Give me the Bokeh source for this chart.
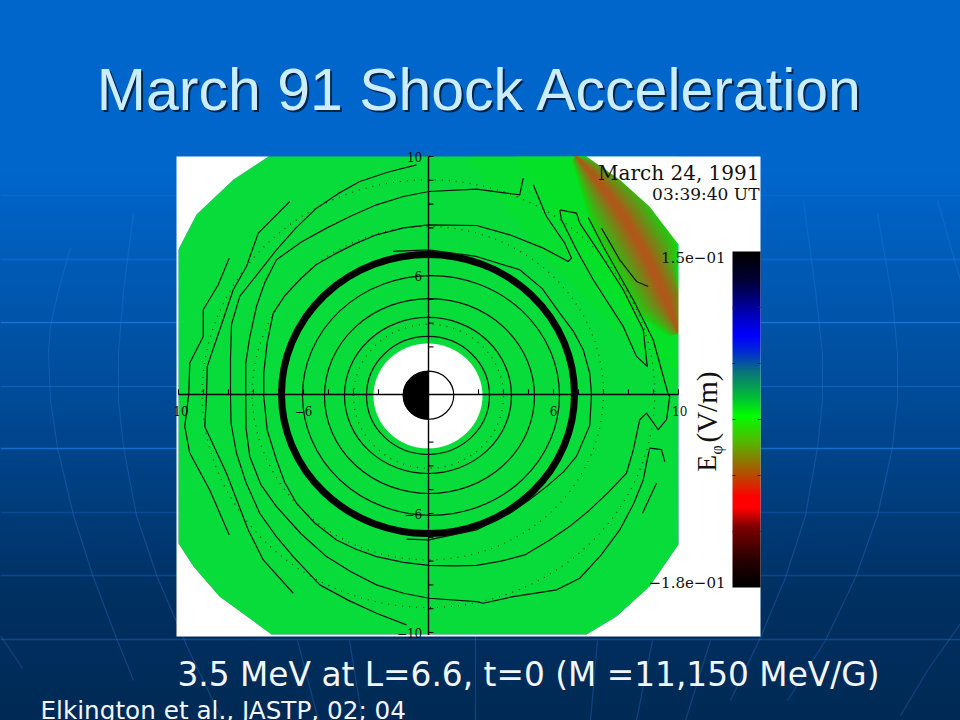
import numpy as np
from bokeh.core.properties import value
from bokeh.embed import file_html
from bokeh.models import GlobalInlineStyleSheet, LinearColorMapper, Range1d
from bokeh.plotting import figure
from bokeh.resources import INLINE

# ---- texts
title_text = "March 91 Shock Acceleration"
caption_text = "3.5 MeV at L=6.6, t=0 (M =11,150 MeV/G)"
credit_text = "Elkington et al., JASTP, 02; 04"
date_text = "March 24, 1991"
time_text = "03:39:40 UT"
cb_top_label = "1.5e\u221201"
cb_bottom_label = "\u22121.8e\u221201"

# ---- disk outline, L units
disk_x = [-6.4, 6.32, 7.64, 8.84, 10.0, 10.0, 8.84, 7.52, 6.32, -6.28, -8.36, -9.4, -10.0, -10.0, -9.28, -7.8]
disk_y = [10.0, 10.0, 9.03, 7.9, 6.3, -6.3, -8.07, -9.33, -10.08, -10.08, -8.49, -7.23, -6.26, 6.1, 7.56, 9.03]
panel_x = [-10.08, 13.28, 13.28, -10.08]
panel_y = [10.0, 10.0, -10.17, -10.17]

# ---- shock band: centre line and half width, L units
band_x = [5.9, 6.6, 7.24, 7.8, 8.72, 9.52, 10.2]
band_y = [10.1, 9.2, 8.32, 7.48, 5.8, 3.99, 2.6]
band_hw = [0.3, 0.85, 1.25, 1.45, 1.5, 1.4, 0.6]

# ---- colour bar
cb_values = [-0.18, 0.15]
cb_stops = [(251, (0, 0, 0)), (280, (0, 0, 55)), (320, (0, 0, 210)), (335, (0, 0, 255)), (350, (0, 40, 215)),
            (372, (10, 120, 120)), (398, (0, 195, 50)), (415, (0, 255, 0)), (440, (80, 190, 0)),
            (472, (175, 85, 0)), (497, (255, 0, 0)), (508, (255, 0, 0)), (527, (125, 0, 0)),
            (560, (40, 0, 0)), (587, (0, 0, 0))]

# ---- nearly circular contours: left, right, top, bottom crossing, L units
ring_left = [-2.48, -3.36, -4.16, -5.04]
ring_right = [2.44, 3.32, 4.24, 5.24]
ring_top = [2.44, 3.24, 4.03, 5.0]
ring_bottom = [-2.52, -3.32, -4.16, -5.08]
thick_edges = [-5.88, 5.84, 5.88, -5.84]
dot_left = [-3.0, -7.05, -9.05]
dot_right = [3.0, 7.0, 9.05]
dot_top = [2.95, 7.06, 9.02]
dot_bottom = [-3.1, -6.95, -8.95]

# ---- open contours, L units
a_x = [6.39, 6.99, 8.19, 8.99, 9.59, 9.65, 9.52, 9.19, 8.72, 8.45, 8.2, 7.92, 7.2, 6.45, 5.7, 4.85, 3.85, 2.9, 1.92, 1.0, 0.01, -1.0, -2.08, -2.9, -3.68, -4.55, -5.28, -5.75, -6.08, -6.45, -6.59, -6.59, -6.45, -6.21, -5.75, -5.15, -4.5, -3.68, -2.9, -2.08, -1.0, 0.01, 1.92, 3.25, 4.59, 5.59, 5.72, 5.45, 4.72, 4.19]
a_y = [7.44, 6.22, 3.98, 2.29, 0.0, -0.08, -1.06, -1.48, -0.78, -1.06, -2.3, -3.31, -4.1, -4.85, -5.5, -6.11, -6.74, -7.0, -7.18, -7.2, -7.18, -7.05, -6.81, -6.5, -6.11, -5.4, -4.57, -3.7, -2.75, -1.5, -0.08, 0.9, 2.2, 3.42, 4.15, 4.82, 5.45, 5.94, 6.35, 6.71, 7.0, 7.13, 7.1, 6.71, 6.15, 5.59, 5.73, 6.36, 7.48, 8.81]
r_x = [-1.41, 0.01, 1.92, 3.65, 4.55, 5.25, 5.8, 6.19, 6.45, 6.52, 6.45, 5.92, 5.4, 4.72, 4.0, 3.25, 1.92, 0.01, -0.88]
r_y = [6.01, 6.08, 5.8, 5.24, 4.45, 3.42, 2.65, 1.88, 0.9, 0.0, -1.3, -2.6, -3.25, -3.87, -4.45, -4.99, -5.69, -6.11, -6.08]
b_x = [3.79, 3.65, 1.92, 0.01, -1.0, -2.08, -3.1, -4.08, -5.1, -6.08, -6.55, -6.88, -7.15, -7.31, -7.31, -7.3, -7.15, -6.7, -6.08, -5.1, -4.08, -3.1, -2.08, -1.0, 0.01, 1.92, 2.19, 3.39, 5.12, 6.05, 6.9, 7.65, 8.2, 8.59, 8.72, 8.85, 9.32, 9.45]
b_y = [9.09, 8.39, 8.63, 8.53, 8.32, 7.97, 7.5, 6.99, 6.4, 5.66, 4.7, 3.7, 2.4, 1.32, -0.08, -1.4, -2.6, -3.8, -4.71, -5.85, -6.81, -7.45, -8.0, -8.35, -8.56, -8.7, -8.77, -8.49, -8.21, -7.72, -6.75, -5.69, -4.6, -3.59, -2.89, -2.25, -2.32, -2.82]
c_x = [-0.48, -1.6, -2.75, -3.6, -4.48, -5.3, -6.08, -6.85, -7.55, -7.88, -7.92, -7.92, -7.9, -7.68, -7.3, -6.75, -6.1, -5.41, -4.35, -3.2, -2.08, -0.88]
c_y = [9.65, 9.35, 8.95, 8.45, 7.83, 7.0, 6.08, 5.05, 4.12, 2.94, 1.5, 0.0, -1.2, -2.46, -3.7, -4.99, -5.95, -6.81, -8.0, -8.65, -9.19, -9.68]
d_x = [-5.55, -6.81, -7.28, -7.81, -8.35, -8.85, -8.88, -8.95, -8.08, -7.21, -6.61, -5.41]
d_y = [8.11, 6.78, 5.38, 4.4, 2.72, 1.18, -0.08, -1.34, -3.31, -5.69, -6.95, -8.35]
e_x = [-7.97, -8.41, -9.01, -9.01, -9.55, -9.59, -9.75, -9.55, -8.75, -7.97]
e_y = [5.73, 4.61, 3.56, 2.44, 1.32, 0.0, -1.34, -2.46, -4.01, -5.9]
loop_x = [5.25, 5.92, 6.05, 6.85, 7.79, 8.59, 8.75, 8.32, 7.79, 6.59, 5.92, 5.32, 5.25]
loop_y = [7.76, 7.62, 7.2, 5.94, 4.4, 2.72, 1.18, 1.6, 2.86, 4.82, 6.08, 7.34, 7.76]
f_x = [6.92, 7.65, 8.32, 8.79]
f_y = [6.99, 5.66, 4.75, 4.54]
g_x = [9.12, 8.56]
g_y = [-3.73, -4.99]

# ---- axes
tick_values = [-10, -9, -8, -7, -6, -5, -4, -3, -2, 2, 3, 4, 5, 6, 7, 8, 9, 10]
x_label_values = [-9.9, -5.0, 5.0, 10.05]
x_label_texts = ["10", "\u22126", "6", "10"]
y_label_values = [10.0, 5.0, -5.0, -10.0]
y_label_texts = ["10", "6", "\u22126", "\u221210"]

# ---- decoration of the slide background (screen pixels)
grid_rows = [195, 259, 322, 386, 448, 512, 575, 639]
grid_alpha = [0.3, 0.4, 0.75, 0.4, 0.75, 0.25, 0.3, 0.35]
meridians = [
    ([70, 58, 50, 48, 50, 57, 73, 93, 113, 133], [247, 290, 325, 353, 400, 447, 515, 577, 630, 680]),
    ([133, 123, 118, 118, 123, 136, 157, 187, 222], [213, 290, 353, 400, 447, 515, 577, 647, 720]),
    ([803, 815, 822, 822, 817, 805, 785, 760, 730], [200, 290, 353, 400, 447, 515, 577, 637, 700]),
    ([877, 892, 897, 897, 892, 877, 855, 825, 787], [213, 300, 353, 400, 447, 515, 577, 640, 700]),
    ([937, 960], [200, 280]),
    ([960, 927, 900], [623, 670, 715]),
    ([297, 318], [640, 720]), ([349, 362], [640, 720]), ([475, 475], [636, 720]),
    ([597, 590], [640, 720]), ([652, 636], [640, 720]), ([710, 685], [640, 720]),
    ([0, 22], [635, 668]),
]

# ---- page
X0, Y0, UX, UY = 428.0, 394.0, 25.0, 23.8
sheet = GlobalInlineStyleSheet(css=
    "html{height:720px;overflow:hidden;background:linear-gradient(180deg,#0066cc 0,#0066cc 170px,"
    "#00448a 450px,#002f60 600px,#002a55 720px) no-repeat;}body{background:transparent;}")

p = figure(width=960, height=720, x_range=Range1d(0, 960), y_range=Range1d(720, 0),
           output_backend="svg", toolbar_location=None, min_border=0)
p.stylesheets = [sheet]
p.axis.visible = False
p.grid.visible = False
p.outline_line_color = None
p.background_fill_alpha = 0
p.border_fill_alpha = 0
p.extra_x_ranges["L"] = Range1d((0 - X0) / UX, (960 - X0) / UX)
p.extra_y_ranges["L"] = Range1d((Y0 - 720) / UY, (Y0 - 0) / UY)
L = dict(x_range_name="L", y_range_name="L")

# slide decoration
p.segment([0] * len(grid_rows), grid_rows, [960] * len(grid_rows), grid_rows,
          line_color="#1f7ae8", line_alpha=grid_alpha, line_width=1.5)
for mx, my in meridians:
    p.line(mx, my, line_color="#2a80e0", line_alpha=0.3, line_width=1.2)

# title and captions
fs = lambda n: value(f"{n}px")
p.text([482], [91], [title_text], text_font=value("Liberation Sans"), text_font_size=fs(59),
       text_color="#00254d", text_align="center", text_baseline="alphabetic")
p.text([480], [89], [title_text], text_font=value("Liberation Sans"), text_font_size=fs(59),
       text_color="#ccecff", text_align="center", text_baseline="alphabetic")
p.text([528], [674], [caption_text], text_font=value("DejaVu Sans"), text_font_size=fs(32.8),
       text_color="#f2f6fa", text_align="center", text_baseline="alphabetic")
p.text([40], [710], [credit_text], text_font=value("DejaVu Sans"), text_font_size=fs(24.7),
       text_color="#f2f6fa", text_align="left", text_baseline="alphabetic")

# green disk, tints and shock band
p.patch(disk_x, disk_y, fill_color="#08dc3a", line_color=None, **L)
p.patch([1.5, 4.5, 9.0, 10, 10, 1.5], [10, 6, 1.0, 0.0, 10, 10], fill_color="#02e41e", fill_alpha=0.35, line_color=None, **L)
p.patch([3.5, 6.0, 9.0, 10, 10, 3.5], [10, 6, 2.0, 1.0, 10, 10], fill_color="#02e41e", fill_alpha=0.45, line_color=None, **L)
bx, by, bw = np.array(band_x), np.array(band_y), np.array(band_hw)
br = np.hypot(bx, by)
for k, f in enumerate(np.linspace(1.0, 0.1, 14)):
    t = (k + 1) / 14
    col = (int(2 + 172 * t), int(228 - 140 * t), int(18 + 8 * t))
    sx, sy = (br + bw * f) / br, (br - bw * f) / br
    px_ = np.clip(list(bx * sx) + list(bx * sy)[::-1], -10, 10)
    py_ = np.clip(list(by * sx) + list(by * sy)[::-1], -10, 10)
    p.patch(list(px_), list(py_), fill_color=col, line_color=None, **L)
p.multi_polygons([[[panel_x, disk_x]]], [[[panel_y, disk_y]]], fill_color="white", line_color=None, **L)

# inner hole and Earth
p.ellipse([-0.02], [-0.06], width=4.36, height=4.41, fill_color="white", line_color=None, **L)
th = np.linspace(np.pi / 2, 3 * np.pi / 2, 40)
p.patch(list(1.03 * np.cos(th)), list(-0.04 + 1.01 * np.sin(th)), fill_color="black", line_color=None, **L)
p.ellipse([0], [-0.03], width=2.02, height=2.02, fill_color=None, line_color="black", line_width=1.2, **L)

# contours
for l, r, t, b in zip(ring_left, ring_right, ring_top, ring_bottom):
    p.ellipse([(l + r) / 2], [(t + b) / 2], width=r - l, height=t - b, fill_color=None, line_color="#111111", line_width=1.2, **L)
for l, r, t, b in zip(dot_left, dot_right, dot_top, dot_bottom):
    p.ellipse([(l + r) / 2], [(t + b) / 2], width=r - l, height=t - b, fill_color=None, line_color="#064a18",
              line_width=1.3, line_dash="1 6", **L)
l, r, t, b = thick_edges
p.ellipse([(l + r) / 2], [(t + b) / 2], width=r - l, height=t - b, fill_color=None, line_color="black", line_width=7, **L)
for cx, cy in [(a_x, a_y), (r_x, r_y), (b_x, b_y), (c_x, c_y), (d_x, d_y), (e_x, e_y), (loop_x, loop_y), (f_x, f_y), (g_x, g_y)]:
    p.line(cx, cy, line_color="#111111", line_width=1.2, line_join="round", **L)

# axes
p.segment([-10], [0], [10], [0], line_color="black", line_width=1.4, **L)
p.segment([0], [-10.1], [0], [10], line_color="black", line_width=1.4, **L)
p.segment(tick_values, [0] * len(tick_values), tick_values, [0.22] * len(tick_values), line_color="black", line_width=1.1, **L)
p.segment([0] * len(tick_values), tick_values, [0.2] * len(tick_values), tick_values, line_color="black", line_width=1.1, **L)
p.text(x_label_values, [-0.7] * 4, x_label_texts, text_font=value("DejaVu Serif"), text_font_size=fs(12),
       text_color="#111111", text_align="center", text_baseline="middle", **L)
p.text([-0.25] * 4, y_label_values, y_label_texts, text_font=value("DejaVu Serif"), text_font_size=fs(12),
       text_color="#111111", text_align="right", text_baseline="middle", **L)

# colour bar
stops_y = [s[0] for s in cb_stops]
palette = [tuple(int(np.interp(y, stops_y, [s[1][i] for s in cb_stops])) for i in range(3)) for y in range(587, 250, -1)]
palette = ["#%02x%02x%02x" % c for c in palette]
mapper = LinearColorMapper(palette=palette, low=cb_values[0], high=cb_values[1])
ramp = np.linspace(cb_values[1], cb_values[0], len(palette)).reshape(-1, 1)
p.image([ramp], x=[732], y=[251], dw=[28], dh=[336], color_mapper=mapper)
cb_ticks = [307, 363, 419, 475, 531]
p.segment([732] * 5, cb_ticks, [735] * 5, cb_ticks, line_color="#222222", line_width=1)
p.segment([757] * 5, cb_ticks, [760] * 5, cb_ticks, line_color="#222222", line_width=1)

serif = value("DejaVu Serif")
p.text([725], [257], [cb_top_label], text_font=serif, text_font_size=fs(15), text_color="#111111",
       text_align="right", text_baseline="alphabetic")
p.text([725], [582], [cb_bottom_label], text_font=serif, text_font_size=fs(15), text_color="#111111",
       text_align="right", text_baseline="alphabetic")
p.text([759], [172], [date_text], text_font=serif, text_font_size=fs(20), text_color="#111111",
       text_align="right", text_baseline="alphabetic")
p.text([759], [193], [time_text], text_font=serif, text_font_size=fs(17), text_color="#111111",
       text_align="right", text_baseline="alphabetic")

times = value("Liberation Serif")
p.text([706], [471], ["E"], angle=np.pi / 2, text_font=times, text_font_size=fs(27), text_color="#111111",
       text_align="left", text_baseline="alphabetic")
p.text([716], [454], ["\u03c6"], angle=np.pi / 2, text_font=times, text_font_size=fs(16), text_color="#111111",
       text_align="left", text_baseline="alphabetic")
p.text([706], [442], ["(V/m)"], angle=np.pi / 2, text_font=times, text_font_size=fs(29), text_color="#111111",
       text_align="left", text_baseline="alphabetic")

open("out.html", "w").write(file_html(p, INLINE))
